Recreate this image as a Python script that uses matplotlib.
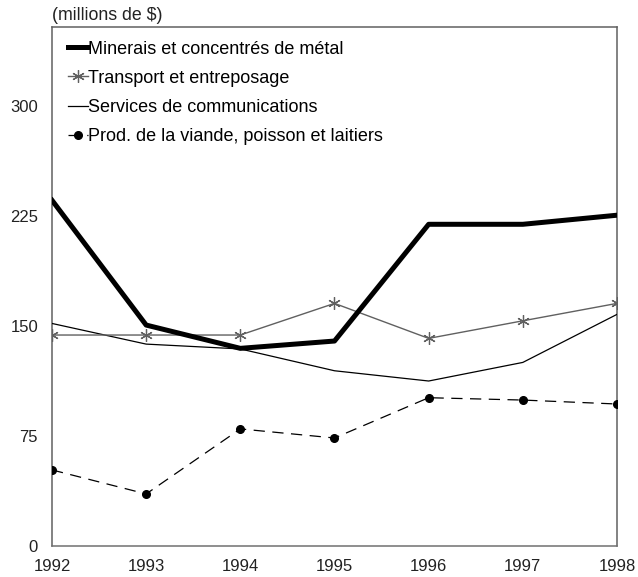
import matplotlib
matplotlib.use("Agg")
from matplotlib import pyplot as plt

years = [1992, 1993, 1994, 1995, 1996, 1997, 1998]
minerais = [235.7, 150.5, 134.6, 139.6, 219.3, 219.3, 225.5]
transport = [143.7, 143.7, 143.7, 165.3, 141.4, 153.4, 165.3]
services = [151.6, 137.5, 134.2, 119.3, 112.3, 125.0, 157.8]
viande = [51.6, 35.2, 79.6, 73.4, 100.9, 99.3, 96.6]

y_ticks = [0, 75, 150, 225, 300]

plt.rcParams['font.family'] = ['Liberation Sans', 'DejaVu Sans']

fig = plt.figure(figsize=(6.38, 5.77), dpi=100)
ax = fig.add_axes([52 / 638, 1 - 545.5 / 577, 565 / 638, 518.5 / 577])

ax.plot(years, minerais, color='black', lw=3.6, zorder=5,
        label='Minerais et concentrés de métal')
ax.plot(years, transport, color='#606060', lw=1, marker=(6, 2, 0),
        markersize=9, markeredgewidth=0.9, zorder=4,
        label='Transport et entreposage')
ax.plot(years, services, color='black', lw=0.9, zorder=3,
        label='Services de communications')
ax.plot(years, viande, color='black', lw=0.9, dashes=(9, 6), marker='o',
        markersize=5.5, zorder=3,
        label='Prod. de la viande, poisson et laitiers')

ax.set_xlim(1992, 1998)
ax.set_ylim(0, 354)
ax.set_xticks(years)
ax.set_yticks(y_ticks)
ax.tick_params(length=0, labelsize=12, colors='#222222')
ax.tick_params(axis='x', pad=9.5)
ax.tick_params(axis='y', pad=10)
for s in ax.spines.values():
    s.set_color('#606060')
    s.set_linewidth(1.1)
ax.spines['bottom'].set_color('#707070')

leg = ax.legend(loc='upper left', bbox_to_anchor=(0.0156, 0.9875), frameon=False,
                handlelength=1.1, handletextpad=0.0, labelspacing=0.67,
                borderaxespad=0.0, fontsize=13)

fig.text(52 / 638, 1 - 15 / 577, '(millions de $)', ha='left', va='center',
         fontsize=12.8, color='#222222')

fig.savefig('out.png', dpi=100)
